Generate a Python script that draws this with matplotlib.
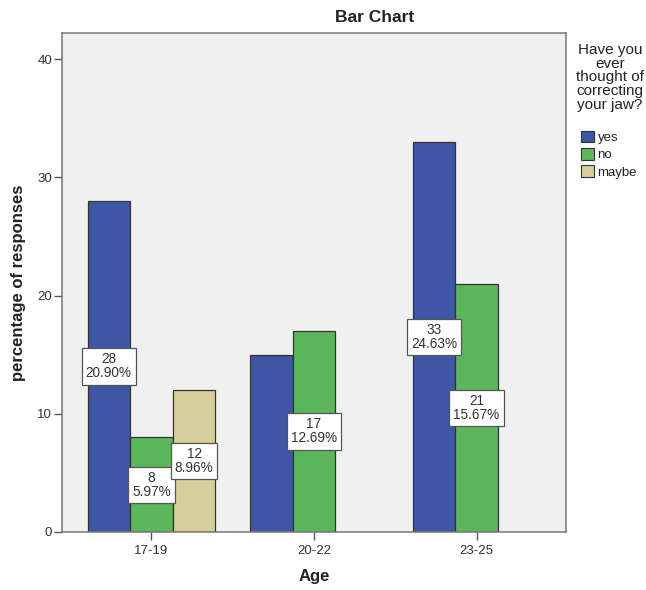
import matplotlib
matplotlib.use("Agg")
import matplotlib.pyplot as plt
import matplotlib.patches as mpatches
import numpy as np

plt.rcParams["font.family"] = ["Liberation Sans", "DejaVu Sans"]

# data
age_groups = ["17-19", "20-22", "23-25"]
answers = ["yes", "no", "maybe"]
yes_counts = [28, 15, 33]
no_counts = [8, 17, 21]
maybe_counts = [12, 0, 0]
# value labels as printed on the chart (None = not labelled)
yes_labels = ["28\n20.90%", None, "33\n24.63%"]
no_labels = ["8\n5.97%", "17\n12.69%", "21\n15.67%"]
maybe_labels = ["12\n8.96%", None, None]

colors = ["#3F55A6", "#5CB65B", "#D6CE9B"]
BG = "#F0F0F0"
EDGE = "#333333"

fig = plt.figure(figsize=(6.46, 5.90), dpi=100)
ax = fig.add_axes([62 / 646, 1 - 532 / 590, 504 / 646, 499 / 590])
ax.set_facecolor(BG)

x = np.arange(len(age_groups))
width = 0.262
series = [
    (yes_counts, yes_labels),
    (no_counts, no_labels),
    (maybe_counts, maybe_labels),
]
for i, (counts, labels) in enumerate(series):
    pos = x + (i - 1) * width
    for p, c, lab in zip(pos, counts, labels):
        if c == 0:
            continue
        ax.bar(p, c, width=width, color=colors[i], edgecolor=EDGE,
               linewidth=0.9, zorder=2)
        if lab:
            ax.text(p, c / 2, lab, ha="center", va="center", fontsize=9.8,
                    color="#333333", linespacing=1.0, zorder=4,
                    bbox=dict(boxstyle="square,pad=0.3", facecolor="white",
                              edgecolor="#555555", linewidth=0.9))

ax.set_xlim(-0.55, 2.55)
ax.set_ylim(0, 42.2)
ax.set_xticks(x)
ax.set_xticklabels(age_groups, fontsize=9.5, color="#333333")
ax.set_yticks([0, 10, 20, 30, 40])
ax.tick_params(axis="y", labelsize=9.5, labelcolor="#333333", length=6,
               width=1, color="#555555", pad=1)
ax.tick_params(axis="x", length=6, width=1, color="#555555", pad=3)
for side in ["top", "right", "left", "bottom"]:
    ax.spines[side].set_color("#777777")
    ax.spines[side].set_linewidth(1.1)

ax.set_ylabel("percentage of responses", fontsize=12, fontweight="bold",
              color="#222222", va="center")
ax.yaxis.set_label_coords(-(62 - 19) / 504, 0.5)
ax.set_xlabel("Age", fontsize=12, fontweight="bold", color="#222222",
              va="center")
ax.xaxis.set_label_coords(0.5, -(577 - 532) / 499)

fig.text(375 / 646, 1 - 17 / 590, "Bar Chart", ha="center", va="center",
         fontsize=12.5, fontweight="bold", color="#222222")

# legend title, centred lines like SPSS
fig.text(610 / 646, 1 - 43 / 590,
         "Have you\never\nthought of\ncorrecting\nyour jaw?",
         ha="center", va="top", multialignment="center", fontsize=11,
         linespacing=0.97, color="#222222")

handles = [mpatches.Patch(facecolor=c, edgecolor=EDGE, linewidth=0.8)
           for c in colors]
leg = fig.legend(handles, answers, loc="upper left",
                 bbox_to_anchor=(581 / 646, 1 - 131 / 590),
                 frameon=False, fontsize=9.5,
                 handlelength=0.95, handleheight=0.95, handletextpad=0.3,
                 labelspacing=0.3, borderpad=0, borderaxespad=0)
for t in leg.get_texts():
    t.set_color("#222222")

fig.savefig("out.png", dpi=100, facecolor="white")
